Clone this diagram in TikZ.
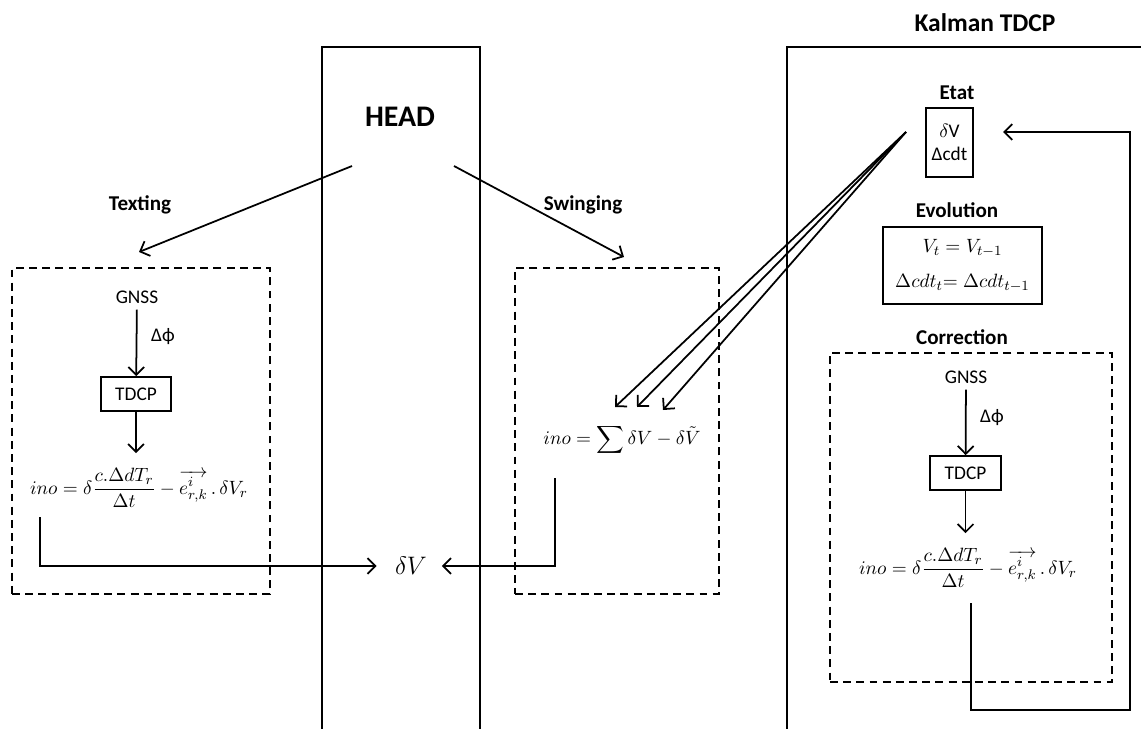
\documentclass[tikz,border=0pt]{standalone}
\usepackage{amsmath}
\usepackage[no-math]{fontspec}
\setmainfont{Carlito}
\usetikzlibrary{arrows.meta,positioning}
\tikzset{
  lane/.style={draw, line width=1pt},
  group/.style={draw, line width=1pt, dash pattern=on 4.5pt off 3pt, inner sep=0pt},
  block/.style={draw, line width=1pt, inner sep=2pt, align=center,
              font=\fontsize{11}{13}\selectfont},
  heading/.style={font=\bfseries\fontsize{12}{14}\selectfont},
  txt/.style={font=\fontsize{11}{13}\selectfont},
  eqn/.style={font=\fontsize{11}{13}\selectfont},
  flow/.style={-{Straight Barb[length=4.5pt,width=9pt]}, line width=1pt},
}

\begin{document}
\begin{tikzpicture}[x=0.02cm, y=-0.02cm]
        \useasboundingbox (0,0) rectangle (1141,729);
        % lanes
        \draw[lane] (322,729) -- (322,47) -- (480,47) -- (480,729);
        \draw[lane] (787,729) -- (787,47) -- (1141,47);
        \node[font=\bfseries\fontsize{17}{19}\selectfont] (head) at (400,117) {HEAD};
        \node[font=\bfseries\fontsize{14.5}{17}\selectfont] (kalman) at (985,23) {Kalman TDCP};
        % HEAD branches
        \coordinate (headl) at (352,166);
        \coordinate (headr) at (454,166);
        \coordinate (texin) at (139,252);
        \coordinate (swin)  at (624,257);
        \node[heading] (texting)  at (140,205) {Texting};
        \node[heading] (swinging) at (583,205) {Swinging};
        \draw[flow] (headl) -- (texin);
        \draw[flow] (headr) -- (swin);
        % Texting
        \node[group, minimum width=5.16cm, minimum height=6.52cm] (texbox) at (141,431) {};
        \node[txt] (gnssl) at (137,297) {GNSS};
        \node[txt] (dphil) at (163,337) {Δϕ};
        \node[block, minimum width=1.4cm, minimum height=0.68cm] (tdcpl) at (136,394) {TDCP};
        \node[eqn] (inol) at (139,488)
          {$\displaystyle ino = \delta\frac{c.\Delta dT_r}{\Delta t} - \overrightarrow{e^{i}_{r,k}}\,.\,\delta V_r$};
        \draw[flow] (gnssl) -- (tdcpl);
        \draw[flow, shorten >=5pt] (tdcpl) -- (tdcpl |- inol.north);
        % Swinging
        \node[group, minimum width=4.08cm, minimum height=6.52cm] (swingbox) at (617,431) {};
        \node[eqn, inner sep=1pt] (inos) at (622,440) {$\displaystyle ino = \sum \delta V - \delta\tilde{V}$};
        % output
        \node[font=\fontsize{15}{17}\selectfont] (dv) at (411,566) {$\delta V$};
        \coordinate (outl) at (40,517);
        \coordinate (outs) at (555,478);
        \draw[flow, shorten >=7pt] (outl) |- (dv.west);
        \draw[flow, shorten >=5pt] (outs) |- (dv.east);
        % Kalman
        \node[heading] (etath) at (957,93) {Etat};
        \node[block, minimum width=0.94cm, minimum height=1.38cm,
              font=\fontsize{11}{13}\selectfont] (etat) at (949.5,142.5) {$\delta$V\\Δcdt};
        \node[heading] (evolh) at (957,210) {Evolution};
        \node[block, minimum width=3.18cm, minimum height=1.54cm,
              font=\fontsize{11}{20}\selectfont] (evol) at (962.5,265.5)
          {$V_t = V_{t-1}$\\$\Delta cdt_t{=}\;\Delta cdt_{t-1}$};
        \coordinate (etatout) at (906,132);
        \coordinate (sw1) at (615,407);
        \coordinate (sw2) at (637,407);
        \coordinate (sw3) at (663,410);
        \draw[flow] (etatout) -- (sw1);
        \draw[flow] (etatout) -- (sw2);
        \draw[flow] (etatout) -- (sw3);
        % Correction
        \node[heading] (corrh) at (962,337) {Correction};
        \node[group, minimum width=5.64cm, minimum height=6.58cm] (corrbox) at (971,517.5) {};
        \node[txt] (gnssr) at (966,377) {GNSS};
        \node[txt] (dphir) at (992,418) {Δϕ};
        \node[block, minimum width=1.42cm, minimum height=0.68cm] (tdcpr) at (965.5,473) {TDCP};
        \node[eqn] (inor) at (968,568)
          {$\displaystyle ino = \delta\frac{c.\Delta dT_r}{\Delta t} - \overrightarrow{e^{i}_{r,k}}\,.\,\delta V_r$};
        \draw[flow] (gnssr) -- (tdcpr);
        \draw[flow, shorten >=5pt] (tdcpr) -- (tdcpr |- inor.north);
        % feedback loop
        \coordinate (outc)   at (971,603);
        \coordinate (loopc)  at (1130,710);
        \coordinate (etatin) at (1003,132);
        \draw[flow] (outc) |- (loopc) |- (etatin);
\end{tikzpicture}
\end{document}
